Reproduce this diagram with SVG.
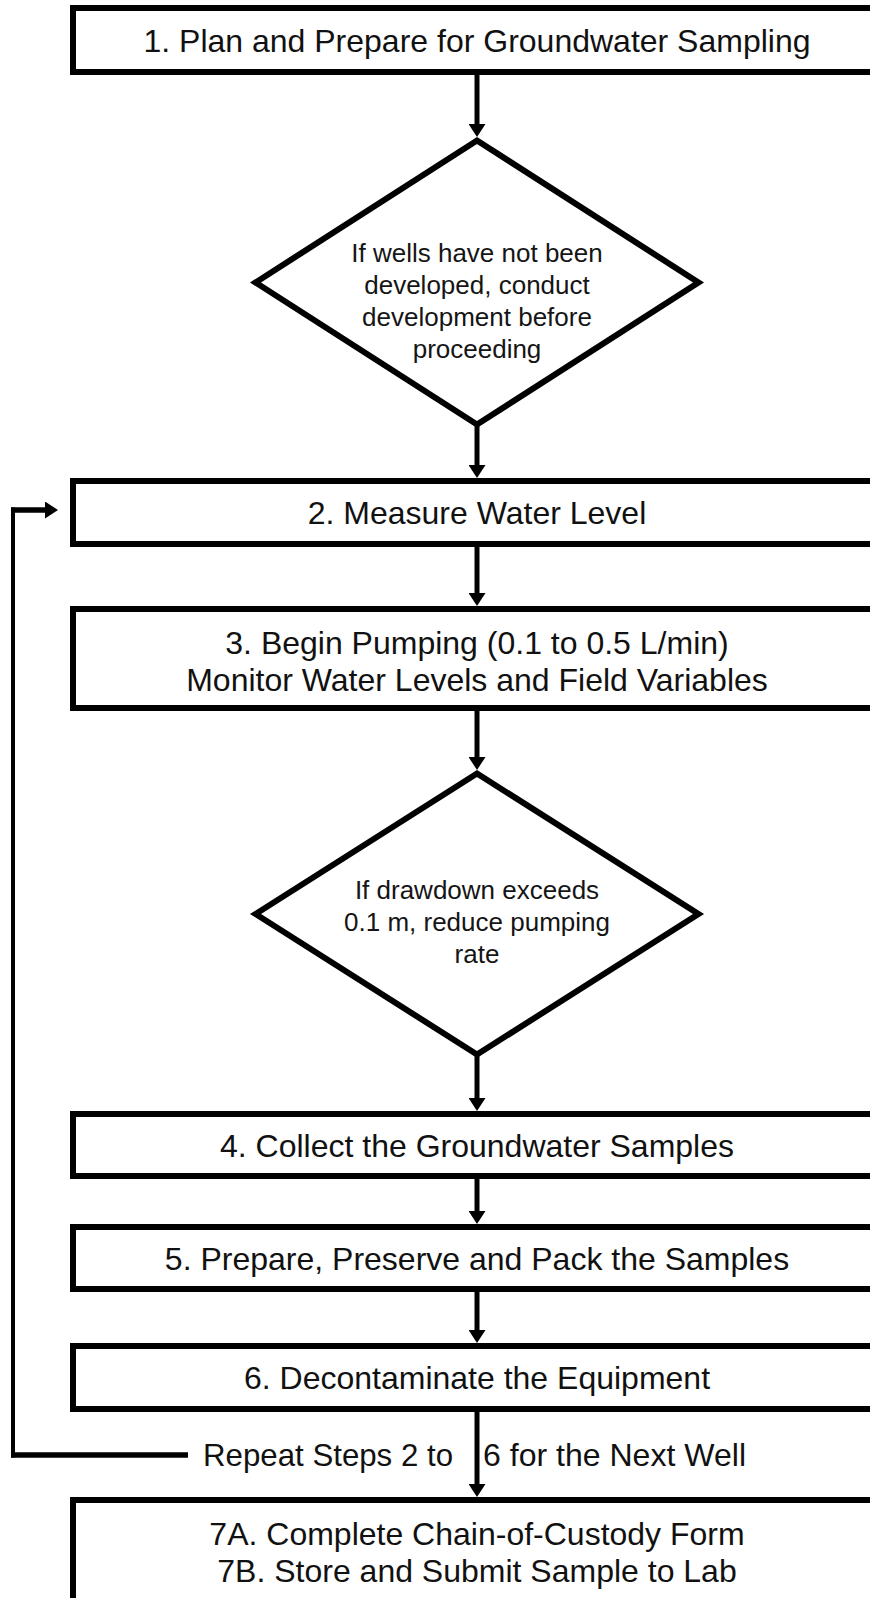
<svg xmlns="http://www.w3.org/2000/svg" width="870" height="1598" viewBox="0 0 870 1598">
  <style>
    .box { fill: #ffffff; stroke: #000000; stroke-width: 6; }
    .dia { fill: #ffffff; stroke: #000000; stroke-width: 6; stroke-linejoin: miter; }
    .lbl { font-family: "Liberation Sans", Arial, sans-serif; font-size: 32px; fill: #111111; text-anchor: middle; }
    .dlbl { font-family: "Liberation Sans", Arial, sans-serif; font-size: 26px; fill: #151515; text-anchor: middle; }
    .edge { fill: none; stroke: #000000; stroke-width: 5; }
    .loop { fill: none; stroke: #000000; }
  </style>
  <defs>
    <marker id="ah" viewBox="0 0 13 17" refX="0" refY="8.5" markerWidth="13" markerHeight="17" markerUnits="userSpaceOnUse" orient="auto">
      <path d="M0,0 L13,8.5 L0,17 Z" fill="#000000"/>
    </marker>
  </defs>

  <rect width="870" height="1598" fill="#ffffff"/>

  <!-- connectors -->
  <g id="connectors">
    <line class="edge" x1="477" y1="75" x2="477" y2="124" marker-end="url(#ah)"/>
    <line class="edge" x1="477" y1="426" x2="477" y2="465" marker-end="url(#ah)"/>
    <line class="edge" x1="477" y1="547" x2="477" y2="593" marker-end="url(#ah)"/>
    <line class="edge" x1="477" y1="711" x2="477" y2="757" marker-end="url(#ah)"/>
    <line class="edge" x1="477" y1="1056" x2="477" y2="1098" marker-end="url(#ah)"/>
    <line class="edge" x1="477" y1="1179" x2="477" y2="1211" marker-end="url(#ah)"/>
    <line class="edge" x1="477" y1="1292" x2="477" y2="1330" marker-end="url(#ah)"/>
    <line class="edge" x1="477" y1="1412" x2="477" y2="1484" marker-end="url(#ah)"/>
    <!-- return loop: step 6 back to step 2 -->
    <line class="loop" stroke-width="5.5" x1="188" y1="1455" x2="11" y2="1455"/>
    <line class="loop" stroke-width="4" x1="13" y1="1457.5" x2="13" y2="507.5"/>
    <line class="loop" stroke-width="5.5" x1="11" y1="510" x2="45" y2="510" marker-end="url(#ah)"/>
  </g>

  <g id="step1">
    <rect class="box" x="73" y="8" width="830" height="64"/>
    <text class="lbl" x="477" y="52">1. Plan and Prepare for Groundwater Sampling</text>
  </g>

  <g id="check-development">
    <polygon class="dia" points="477,140.5 698.5,282.5 477,424.5 255.5,282.5"/>
    <text class="dlbl" x="477" y="262">If wells have not been</text>
    <text class="dlbl" x="477" y="293.5">developed, conduct</text>
    <text class="dlbl" x="477" y="325.5">development before</text>
    <text class="dlbl" x="477" y="358">proceeding</text>
  </g>

  <g id="step2">
    <rect class="box" x="73" y="481" width="830" height="63"/>
    <text class="lbl" x="477" y="524">2. Measure Water Level</text>
  </g>

  <g id="step3">
    <rect class="box" x="73" y="609" width="830" height="99"/>
    <text class="lbl" x="477" y="654">3. Begin Pumping (0.1 to 0.5 L/min)</text>
    <text class="lbl" x="477" y="691">Monitor Water Levels and Field Variables</text>
  </g>

  <g id="check-drawdown">
    <polygon class="dia" points="477,773.5 698.5,914 477,1054.5 255.5,914"/>
    <text class="dlbl" x="477" y="899">If drawdown exceeds</text>
    <text class="dlbl" x="477" y="931">0.1 m, reduce pumping</text>
    <text class="dlbl" x="477" y="963">rate</text>
  </g>

  <g id="step4">
    <rect class="box" x="73" y="1114" width="830" height="62"/>
    <text class="lbl" x="477" y="1156.5">4. Collect the Groundwater Samples</text>
  </g>

  <g id="step5">
    <rect class="box" x="73" y="1227" width="830" height="62"/>
    <text class="lbl" x="477" y="1269.5">5. Prepare, Preserve and Pack the Samples</text>
  </g>

  <g id="step6">
    <rect class="box" x="73" y="1346" width="830" height="63"/>
    <text class="lbl" x="477" y="1389">6. Decontaminate the Equipment</text>
  </g>

  <g id="repeat-label">
    <text class="lbl" x="203" y="1466" style="text-anchor:start" textLength="250" lengthAdjust="spacingAndGlyphs">Repeat Steps 2 to</text>
    <text class="lbl" x="483" y="1466" style="text-anchor:start" textLength="263" lengthAdjust="spacingAndGlyphs">6 for the Next Well</text>
  </g>

  <g id="step7">
    <rect class="box" x="73" y="1500" width="830" height="140"/>
    <text class="lbl" x="477" y="1545">7A. Complete Chain-of-Custody Form</text>
    <text class="lbl" x="477" y="1582">7B. Store and Submit Sample to Lab</text>
  </g>
</svg>
